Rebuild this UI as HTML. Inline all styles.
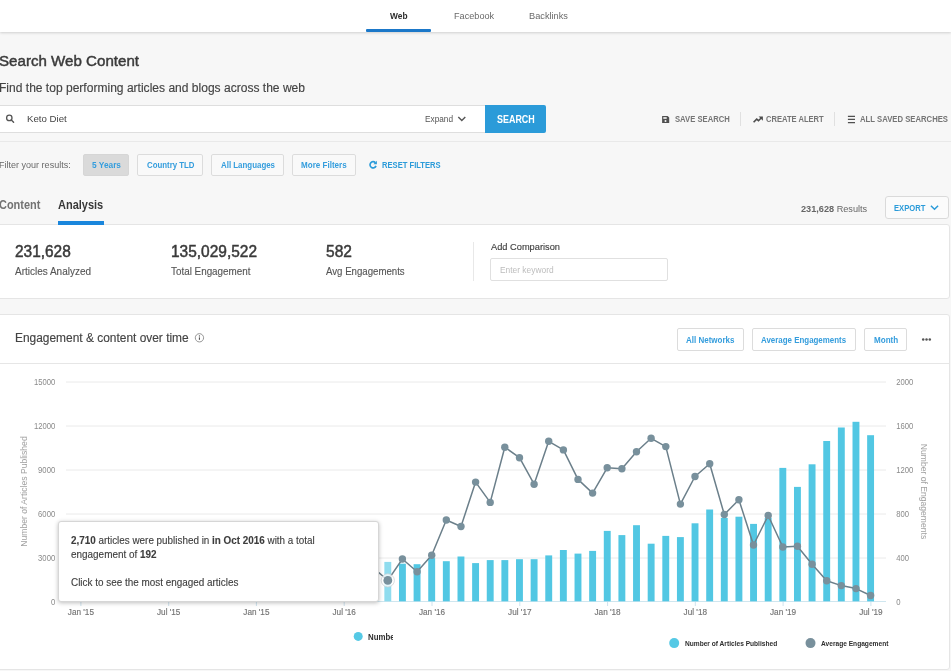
<!DOCTYPE html>
<html lang="en"><head><meta charset="utf-8"><title>Search Web Content</title>
<style>
html,body{margin:0;padding:0}
body{width:951px;height:671px;overflow:hidden;background:#f7f7f7;position:relative;font-family:"Liberation Sans",sans-serif;}
.t{position:absolute;white-space:nowrap;line-height:20px;height:20px;transform-origin:0 50%}
.t b{font-weight:700}
.a{position:absolute;box-sizing:border-box}
.chart{position:absolute;left:0;top:0}
#page{position:absolute;left:0;top:0;width:951px;height:671px;overflow:hidden;will-change:transform}
</style></head>
<body>
<div id="page">
<div class="a" style="left:0;top:0;width:951px;height:32px;background:#fff;box-shadow:0 0.5px 2.5px rgba(0,0,0,.16)"></div>
<div class="a" style="left:366px;top:29.1px;width:65.2px;height:2.9px;background:#1b78c9;border-radius:1px"></div>
<div class="a" style="left:-2px;top:104.5px;width:488px;height:28.5px;background:#fff;border:1px solid #dedede"></div>
<div class="a" style="left:485px;top:104.5px;width:61px;height:28.5px;background:#2b9bd9;border-radius:0 2px 2px 0"></div>
<div class="a" style="left:740px;top:112px;width:1px;height:14px;background:#e0e0e0"></div>
<div class="a" style="left:834px;top:112px;width:1px;height:14px;background:#e0e0e0"></div>
<div class="a" style="left:0;top:141px;width:951px;height:1px;background:#e9e9e9"></div>
<div class="a" style="left:82.8px;top:153.8px;width:46.5px;height:22px;background:#dadada;border:1px solid #d6d6d6;border-radius:2px"></div>
<div class="a" style="left:137px;top:153.6px;width:66px;height:22.2px;background:#f9f9f9;border:1px solid #dcdcdc;border-radius:2px"></div>
<div class="a" style="left:211.3px;top:153.6px;width:72.5px;height:22.2px;background:#f9f9f9;border:1px solid #dcdcdc;border-radius:2px"></div>
<div class="a" style="left:291.5px;top:153.6px;width:64.5px;height:22.2px;background:#f9f9f9;border:1px solid #dcdcdc;border-radius:2px"></div>
<div class="a" style="left:885px;top:196px;width:64px;height:23px;background:#fbfbfb;border:1px solid #dadada;border-radius:3px"></div>
<div class="a" style="left:-0.6px;top:223.7px;width:950.5px;height:75px;background:#fff;border:1px solid #e5e5e5;border-radius:0 3px 3px 0"></div>
<div class="a" style="left:57.8px;top:220.9px;width:46px;height:3.7px;background:#1a86dc"></div>
<div class="a" style="left:473px;top:242px;width:1px;height:39px;background:#e8e8e8"></div>
<div class="a" style="left:490px;top:257.8px;width:178px;height:23.4px;background:#fff;border:1px solid #e0e0e0;border-radius:2px"></div>
<div class="a" style="left:-0.6px;top:313.8px;width:950.5px;height:355.8px;background:#fff;border:1px solid #e5e5e5;border-radius:0 3px 3px 0"></div>
<div class="a" style="left:0;top:362.5px;width:949px;height:1px;background:#e6e6e6"></div>
<div class="a" style="left:677px;top:328.3px;width:66.5px;height:22.3px;background:#fff;border:1px solid #dcdcdc;border-radius:2px"></div>
<div class="a" style="left:752.4px;top:328.3px;width:103.8px;height:22.3px;background:#fff;border:1px solid #dcdcdc;border-radius:2px"></div>
<div class="a" style="left:864.4px;top:328.3px;width:43px;height:22.3px;background:#fff;border:1px solid #dcdcdc;border-radius:2px"></div>
<svg class="chart" width="951" height="671" viewBox="0 0 951 671" style="font-family:'Liberation Sans',sans-serif">
<line x1="66" x2="886" y1="382.0" y2="382.0" stroke="#eaeaea" stroke-width="1"/>
<line x1="66" x2="886" y1="426.0" y2="426.0" stroke="#eaeaea" stroke-width="1"/>
<line x1="66" x2="886" y1="470.0" y2="470.0" stroke="#eaeaea" stroke-width="1"/>
<line x1="66" x2="886" y1="514.0" y2="514.0" stroke="#eaeaea" stroke-width="1"/>
<line x1="66" x2="886" y1="558.0" y2="558.0" stroke="#eaeaea" stroke-width="1"/>
<line x1="66" x2="886" y1="601.5" y2="601.5" stroke="#cfe6ef" stroke-width="1"/>
<line x1="80.9" x2="80.9" y1="601" y2="606" stroke="#cfe3ee" stroke-width="1"/>
<line x1="168.7" x2="168.7" y1="601" y2="606" stroke="#cfe3ee" stroke-width="1"/>
<line x1="256.4" x2="256.4" y1="601" y2="606" stroke="#cfe3ee" stroke-width="1"/>
<line x1="344.2" x2="344.2" y1="601" y2="606" stroke="#cfe3ee" stroke-width="1"/>
<line x1="432.0" x2="432.0" y1="601" y2="606" stroke="#cfe3ee" stroke-width="1"/>
<line x1="519.8" x2="519.8" y1="601" y2="606" stroke="#cfe3ee" stroke-width="1"/>
<line x1="607.6" x2="607.6" y1="601" y2="606" stroke="#cfe3ee" stroke-width="1"/>
<line x1="695.3" x2="695.3" y1="601" y2="606" stroke="#cfe3ee" stroke-width="1"/>
<line x1="783.1" x2="783.1" y1="601" y2="606" stroke="#cfe3ee" stroke-width="1"/>
<line x1="870.9" x2="870.9" y1="601" y2="606" stroke="#cfe3ee" stroke-width="1"/>
<rect x="384.35" y="561.90" width="6.9" height="39.40" fill="#8fdcee"/>
<rect x="398.98" y="563.70" width="6.9" height="37.60" fill="#52c7e3"/>
<rect x="413.61" y="564.20" width="6.9" height="37.10" fill="#52c7e3"/>
<rect x="428.24" y="558.10" width="6.9" height="43.20" fill="#52c7e3"/>
<rect x="442.87" y="561.20" width="6.9" height="40.10" fill="#52c7e3"/>
<rect x="457.50" y="556.50" width="6.9" height="44.80" fill="#52c7e3"/>
<rect x="472.13" y="563.10" width="6.9" height="38.20" fill="#52c7e3"/>
<rect x="486.76" y="560.10" width="6.9" height="41.20" fill="#52c7e3"/>
<rect x="501.39" y="560.10" width="6.9" height="41.20" fill="#52c7e3"/>
<rect x="516.02" y="559.20" width="6.9" height="42.10" fill="#52c7e3"/>
<rect x="530.65" y="559.20" width="6.9" height="42.10" fill="#52c7e3"/>
<rect x="545.28" y="555.40" width="6.9" height="45.90" fill="#52c7e3"/>
<rect x="559.91" y="550.00" width="6.9" height="51.30" fill="#52c7e3"/>
<rect x="574.54" y="553.60" width="6.9" height="47.70" fill="#52c7e3"/>
<rect x="589.17" y="550.90" width="6.9" height="50.40" fill="#52c7e3"/>
<rect x="603.80" y="530.90" width="6.9" height="70.40" fill="#52c7e3"/>
<rect x="618.43" y="535.10" width="6.9" height="66.20" fill="#52c7e3"/>
<rect x="633.06" y="525.20" width="6.9" height="76.10" fill="#52c7e3"/>
<rect x="647.69" y="543.70" width="6.9" height="57.60" fill="#52c7e3"/>
<rect x="662.32" y="535.90" width="6.9" height="65.40" fill="#52c7e3"/>
<rect x="676.95" y="537.10" width="6.9" height="64.20" fill="#52c7e3"/>
<rect x="691.58" y="523.30" width="6.9" height="78.00" fill="#52c7e3"/>
<rect x="706.21" y="509.50" width="6.9" height="91.80" fill="#52c7e3"/>
<rect x="720.84" y="518.00" width="6.9" height="83.30" fill="#52c7e3"/>
<rect x="735.47" y="516.70" width="6.9" height="84.60" fill="#52c7e3"/>
<rect x="750.10" y="523.90" width="6.9" height="77.40" fill="#52c7e3"/>
<rect x="764.73" y="518.00" width="6.9" height="83.30" fill="#52c7e3"/>
<rect x="779.36" y="467.90" width="6.9" height="133.40" fill="#52c7e3"/>
<rect x="793.99" y="486.90" width="6.9" height="114.40" fill="#52c7e3"/>
<rect x="808.62" y="464.30" width="6.9" height="137.00" fill="#52c7e3"/>
<rect x="823.25" y="441.00" width="6.9" height="160.30" fill="#52c7e3"/>
<rect x="837.88" y="427.50" width="6.9" height="173.80" fill="#52c7e3"/>
<rect x="852.51" y="421.80" width="6.9" height="179.50" fill="#52c7e3"/>
<rect x="867.14" y="435.20" width="6.9" height="166.10" fill="#52c7e3"/>
<polyline points="373.5,568 387.8,580.4 402.4,559.0 417.1,571.7 431.7,555.2 446.3,520.0 461.0,526.5 475.6,482.1 490.2,502.4 504.8,447.2 519.5,457.7 534.1,484.2 548.7,441.3 563.4,449.9 578.0,479.4 592.6,493.1 607.2,467.8 621.9,468.7 636.5,451.7 651.1,438.3 665.8,446.6 680.4,504.1 695.0,476.5 709.7,463.7 724.3,514.5 738.9,499.7 753.5,545.0 768.2,515.5 782.8,547.0 797.4,546.3 812.1,564.3 826.7,580.7 841.3,585.6 856.0,588.6 870.6,595.5" fill="none" stroke="#6b7f8a" stroke-width="1.5" stroke-linejoin="round"/>
<circle cx="387.8" cy="580.4" r="6.6" fill="#fff" fill-opacity="0.75" stroke="#c9ced1" stroke-width="0.7"/>
<circle cx="387.8" cy="580.4" r="4.4" fill="#78909c"/>
<circle cx="402.4" cy="559.0" r="3.7" fill="#78909c"/>
<circle cx="417.1" cy="571.7" r="3.7" fill="#78909c"/>
<circle cx="431.7" cy="555.2" r="3.7" fill="#78909c"/>
<circle cx="446.3" cy="520.0" r="3.7" fill="#78909c"/>
<circle cx="461.0" cy="526.5" r="3.7" fill="#78909c"/>
<circle cx="475.6" cy="482.1" r="3.7" fill="#78909c"/>
<circle cx="490.2" cy="502.4" r="3.7" fill="#78909c"/>
<circle cx="504.8" cy="447.2" r="3.7" fill="#78909c"/>
<circle cx="519.5" cy="457.7" r="3.7" fill="#78909c"/>
<circle cx="534.1" cy="484.2" r="3.7" fill="#78909c"/>
<circle cx="548.7" cy="441.3" r="3.7" fill="#78909c"/>
<circle cx="563.4" cy="449.9" r="3.7" fill="#78909c"/>
<circle cx="578.0" cy="479.4" r="3.7" fill="#78909c"/>
<circle cx="592.6" cy="493.1" r="3.7" fill="#78909c"/>
<circle cx="607.2" cy="467.8" r="3.7" fill="#78909c"/>
<circle cx="621.9" cy="468.7" r="3.7" fill="#78909c"/>
<circle cx="636.5" cy="451.7" r="3.7" fill="#78909c"/>
<circle cx="651.1" cy="438.3" r="3.7" fill="#78909c"/>
<circle cx="665.8" cy="446.6" r="3.7" fill="#78909c"/>
<circle cx="680.4" cy="504.1" r="3.7" fill="#78909c"/>
<circle cx="695.0" cy="476.5" r="3.7" fill="#78909c"/>
<circle cx="709.7" cy="463.7" r="3.7" fill="#78909c"/>
<circle cx="724.3" cy="514.5" r="3.7" fill="#78909c"/>
<circle cx="738.9" cy="499.7" r="3.7" fill="#78909c"/>
<circle cx="753.5" cy="545.0" r="3.7" fill="#78909c"/>
<circle cx="768.2" cy="515.5" r="3.7" fill="#78909c"/>
<circle cx="782.8" cy="547.0" r="3.7" fill="#78909c"/>
<circle cx="797.4" cy="546.3" r="3.7" fill="#78909c"/>
<circle cx="812.1" cy="564.3" r="3.7" fill="#78909c"/>
<circle cx="826.7" cy="580.7" r="3.7" fill="#78909c"/>
<circle cx="841.3" cy="585.6" r="3.7" fill="#78909c"/>
<circle cx="856.0" cy="588.6" r="3.7" fill="#78909c"/>
<circle cx="870.6" cy="595.5" r="3.7" fill="#78909c"/>
<text x="55.2" y="382.2" text-anchor="end" font-size="8.2" fill="#8a8a8a" dominant-baseline="middle" dy="0.3" textLength="21.3" lengthAdjust="spacingAndGlyphs">15000</text>
<text x="55.2" y="426.2" text-anchor="end" font-size="8.2" fill="#8a8a8a" dominant-baseline="middle" dy="0.3" textLength="21.3" lengthAdjust="spacingAndGlyphs">12000</text>
<text x="55.2" y="470.2" text-anchor="end" font-size="8.2" fill="#8a8a8a" dominant-baseline="middle" dy="0.3" textLength="17.1" lengthAdjust="spacingAndGlyphs">9000</text>
<text x="55.2" y="514.2" text-anchor="end" font-size="8.2" fill="#8a8a8a" dominant-baseline="middle" dy="0.3" textLength="17.1" lengthAdjust="spacingAndGlyphs">6000</text>
<text x="55.2" y="558.2" text-anchor="end" font-size="8.2" fill="#8a8a8a" dominant-baseline="middle" dy="0.3" textLength="17.1" lengthAdjust="spacingAndGlyphs">3000</text>
<text x="55.2" y="602.2" text-anchor="end" font-size="8.2" fill="#8a8a8a" dominant-baseline="middle" dy="0.3" textLength="4.3" lengthAdjust="spacingAndGlyphs">0</text>
<text x="896.3" y="382.2" text-anchor="start" font-size="8.2" fill="#8a8a8a" dominant-baseline="middle" dy="0.3" textLength="17.1" lengthAdjust="spacingAndGlyphs">2000</text>
<text x="896.3" y="426.2" text-anchor="start" font-size="8.2" fill="#8a8a8a" dominant-baseline="middle" dy="0.3" textLength="17.1" lengthAdjust="spacingAndGlyphs">1600</text>
<text x="896.3" y="470.2" text-anchor="start" font-size="8.2" fill="#8a8a8a" dominant-baseline="middle" dy="0.3" textLength="17.1" lengthAdjust="spacingAndGlyphs">1200</text>
<text x="896.3" y="514.2" text-anchor="start" font-size="8.2" fill="#8a8a8a" dominant-baseline="middle" dy="0.3" textLength="12.8" lengthAdjust="spacingAndGlyphs">800</text>
<text x="896.3" y="558.2" text-anchor="start" font-size="8.2" fill="#8a8a8a" dominant-baseline="middle" dy="0.3" textLength="12.8" lengthAdjust="spacingAndGlyphs">400</text>
<text x="896.3" y="602.2" text-anchor="start" font-size="8.2" fill="#8a8a8a" dominant-baseline="middle" dy="0.3" textLength="4.3" lengthAdjust="spacingAndGlyphs">0</text>
<text x="80.9" y="614.8" text-anchor="middle" font-size="8.2" fill="#747474" stroke="#747474" stroke-width="0.15">Jan '15</text>
<text x="168.7" y="614.8" text-anchor="middle" font-size="8.2" fill="#747474" stroke="#747474" stroke-width="0.15">Jul '15</text>
<text x="256.4" y="614.8" text-anchor="middle" font-size="8.2" fill="#747474" stroke="#747474" stroke-width="0.15">Jan '15</text>
<text x="344.2" y="614.8" text-anchor="middle" font-size="8.2" fill="#747474" stroke="#747474" stroke-width="0.15">Jul '16</text>
<text x="432.0" y="614.8" text-anchor="middle" font-size="8.2" fill="#747474" stroke="#747474" stroke-width="0.15">Jan '16</text>
<text x="519.8" y="614.8" text-anchor="middle" font-size="8.2" fill="#747474" stroke="#747474" stroke-width="0.15">Jul '17</text>
<text x="607.6" y="614.8" text-anchor="middle" font-size="8.2" fill="#747474" stroke="#747474" stroke-width="0.15">Jan '18</text>
<text x="695.3" y="614.8" text-anchor="middle" font-size="8.2" fill="#747474" stroke="#747474" stroke-width="0.15">Jul '18</text>
<text x="783.1" y="614.8" text-anchor="middle" font-size="8.2" fill="#747474" stroke="#747474" stroke-width="0.15">Jan '19</text>
<text x="870.9" y="614.8" text-anchor="middle" font-size="8.2" fill="#747474" stroke="#747474" stroke-width="0.15">Jul '19</text>
<text transform="translate(26.8,491.5) rotate(-90)" text-anchor="middle" font-size="8.6" fill="#a2a2a2">Number of Articles Published</text>
<text transform="translate(920.8,491.5) rotate(90)" text-anchor="middle" font-size="8.6" fill="#a2a2a2">Number of Engagements</text>
<circle cx="674.2" cy="643.1" r="5" fill="#55c9e5"/>
<circle cx="810.5" cy="643.1" r="5" fill="#78909c"/>
</svg>
<svg class="chart" width="951" height="671" viewBox="0 0 951 671">
<circle cx="9.3" cy="117.9" r="2.7" fill="none" stroke="#555" stroke-width="1.3"/><line x1="11.3" y1="120" x2="13.6" y2="122.3" stroke="#555" stroke-width="1.4" stroke-linecap="round"/>
<polyline points="458.3,117 461.8,120.4 465.3,117" fill="none" stroke="#555" stroke-width="1.4"/>
<path d="M662.1 116 h5.5 l1.6 1.6 v5.4 h-7.1z" fill="#505050"/><rect x="663.3" y="117.2" width="3.4" height="1.6" fill="#f7f7f7"/><circle cx="665.5" cy="121" r="1" fill="#f7f7f7"/>
<polyline points="753.6,122.3 756.7,119.1 758.5,120.7 761.4,117.7" fill="none" stroke="#4d4d4d" stroke-width="1.6"/><path d="M758.6 116.5 h4.3 v4.3z" fill="#4d4d4d"/>
<path d="M847.9 116.4h7.1M847.9 119.45h7.1M847.9 122.5h7.1" stroke="#505050" stroke-width="1.25"/>
<path d="M375.3 162.6 a3.1 3.1 0 1 0 0.7 3.3" fill="none" stroke="#2b9bd9" stroke-width="1.65"/><path d="M376.9 160.7 v3.5 h-3.5z" fill="#2b9bd9"/>
<polyline points="930.9,205.8 934.5,209.3 938.1,205.8" fill="none" stroke="#2b9bd9" stroke-width="1.5"/>
<circle cx="199.45" cy="337.8" r="4.15" fill="none" stroke="#8a8a8a" stroke-width="0.9"/><path d="M199.45 337.4v2.4" stroke="#505050" stroke-width="1.15"/><circle cx="199.45" cy="335.9" r="0.65" fill="#505050"/>
<circle cx="923.2" cy="339.4" r="1.25" fill="#555"/><circle cx="926.5" cy="339.4" r="1.25" fill="#555"/><circle cx="929.8" cy="339.4" r="1.25" fill="#555"/>
</svg>
<div class="a" style="left:58.3px;top:520.9px;width:320.6px;height:80.7px;background:#fff;border:1px solid #d6d6d6;border-radius:3px;box-shadow:0 1px 4px rgba(0,0,0,.26)"></div>
<svg class="chart" width="951" height="671" viewBox="0 0 951 671"><circle cx="358.2" cy="636.4" r="4.5" fill="#55c9e5"/></svg><div class="a" style="left:367.6px;top:626.9px;width:25px;height:20px;overflow:hidden"><span style="position:absolute;left:0;top:0;white-space:nowrap;line-height:20px;font-size:8.3px;font-weight:700;color:#2e2e2e;transform:scaleX(0.945);transform-origin:0 50%">Number of Articles Published</span></div>
<span id="t0" class="t" style="left:389.50px;top:6.09px;font-size:9.2px;font-weight:700;color:#2b2b2b;transform:scaleX(0.9098);">Web</span>
<span id="t1" class="t" style="left:453.50px;top:6.27px;font-size:9.4px;font-weight:400;color:#6a6a6a;transform:scaleX(0.9740);">Facebook</span>
<span id="t2" class="t" style="left:529.00px;top:6.27px;font-size:9.4px;font-weight:400;color:#6a6a6a;transform:scaleX(0.9846);">Backlinks</span>
<span id="t3" class="t" style="left:-1.00px;top:51.00px;font-size:15.4px;font-weight:400;color:#3a3a3a;transform:scaleX(0.9818);-webkit-text-stroke:0.46px #3a3a3a;">Search Web Content</span>
<span id="t4" class="t" style="left:-1.00px;top:78.00px;font-size:12px;font-weight:400;color:#444;transform:scaleX(1.0038);-webkit-text-stroke:0.15px #444;">Find the top performing articles and blogs across the web</span>
<span id="t5" class="t" style="left:27.20px;top:109.31px;font-size:9.8px;font-weight:400;color:#444;transform:scaleX(0.9873);">Keto Diet</span>
<span id="t6" class="t" style="left:425.00px;top:108.91px;font-size:8.7px;font-weight:400;color:#555;transform:scaleX(0.9502);">Expand</span>
<span id="t7" class="t" style="left:496.80px;top:109.65px;font-size:10.2px;font-weight:700;color:#fff;transform:scaleX(0.8784);">SEARCH</span>
<span id="t8" class="t" style="left:675.20px;top:109.30px;font-size:8.7px;font-weight:700;color:#757575;transform:scaleX(0.8821);">SAVE SEARCH</span>
<span id="t9" class="t" style="left:766.30px;top:109.30px;font-size:8.7px;font-weight:700;color:#757575;transform:scaleX(0.8726);">CREATE ALERT</span>
<span id="t10" class="t" style="left:860.00px;top:109.30px;font-size:8.7px;font-weight:700;color:#757575;transform:scaleX(0.8878);">ALL SAVED SEARCHES</span>
<span id="t11" class="t" style="left:-1.00px;top:155.13px;font-size:9.3px;font-weight:400;color:#6a6a6a;transform:scaleX(0.9704);">Filter your results:</span>
<span id="t12" class="t" style="left:91.50px;top:155.11px;font-size:8.7px;font-weight:700;color:#349ddd;transform:scaleX(0.9577);">5 Years</span>
<span id="t13" class="t" style="left:146.50px;top:155.11px;font-size:8.7px;font-weight:700;color:#349ddd;transform:scaleX(0.9029);">Country TLD</span>
<span id="t14" class="t" style="left:220.50px;top:155.11px;font-size:8.7px;font-weight:700;color:#349ddd;transform:scaleX(0.9095);">All Languages</span>
<span id="t15" class="t" style="left:301.00px;top:155.11px;font-size:8.7px;font-weight:700;color:#349ddd;transform:scaleX(0.9279);">More Filters</span>
<span id="t16" class="t" style="left:382.00px;top:155.11px;font-size:8.7px;font-weight:700;color:#2b9bd9;transform:scaleX(0.8769);">RESET FILTERS</span>
<span id="t17" class="t" style="left:-1.00px;top:194.70px;font-size:12px;font-weight:700;color:#727272;transform:scaleX(0.9133);">Content</span>
<span id="t18" class="t" style="left:58.30px;top:194.70px;font-size:12px;font-weight:700;color:#383838;transform:scaleX(0.9157);">Analysis</span>
<span id="t19" class="t" style="left:801.20px;top:198.71px;font-size:9.8px;font-weight:400;color:#666;transform:scaleX(0.9349);"><b>231,628</b> Results</span>
<span id="t20" class="t" style="left:894.00px;top:197.51px;font-size:8.7px;font-weight:700;color:#2b9bd9;transform:scaleX(0.8759);">EXPORT</span>
<span id="t21" class="t" style="left:15.20px;top:242.00px;font-size:15.6px;font-weight:400;color:#3a3a3a;transform:scaleX(0.9898);-webkit-text-stroke:0.47px #3a3a3a;">231,628</span>
<span id="t22" class="t" style="left:15.20px;top:262.00px;font-size:10.2px;font-weight:400;color:#555;transform:scaleX(0.9797);-webkit-text-stroke:0.12px #555;">Articles Analyzed</span>
<span id="t23" class="t" style="left:170.80px;top:242.00px;font-size:15.6px;font-weight:400;color:#3a3a3a;transform:scaleX(0.9917);-webkit-text-stroke:0.47px #3a3a3a;">135,029,522</span>
<span id="t24" class="t" style="left:170.80px;top:262.00px;font-size:10.2px;font-weight:400;color:#555;transform:scaleX(0.9680);-webkit-text-stroke:0.12px #555;">Total Engagement</span>
<span id="t25" class="t" style="left:326.10px;top:242.00px;font-size:15.6px;font-weight:400;color:#3a3a3a;transform:scaleX(0.9950);-webkit-text-stroke:0.47px #3a3a3a;">582</span>
<span id="t26" class="t" style="left:326.10px;top:262.00px;font-size:10.2px;font-weight:400;color:#555;transform:scaleX(0.9473);-webkit-text-stroke:0.12px #555;">Avg Engagements</span>
<span id="t27" class="t" style="left:490.50px;top:237.31px;font-size:9.8px;font-weight:400;color:#3f3f3f;transform:scaleX(0.9454);-webkit-text-stroke:0.15px #3f3f3f;">Add Comparison</span>
<span id="t28" class="t" style="left:500.00px;top:260.15px;font-size:8.8px;font-weight:400;color:#bdbdbd;transform:scaleX(0.9532);">Enter keyword</span>
<span id="t29" class="t" style="left:15.00px;top:328.30px;font-size:12px;font-weight:400;color:#444;transform:scaleX(0.9938);-webkit-text-stroke:0.15px #444;">Engagement &amp; content over time</span>
<span id="t30" class="t" style="left:686.00px;top:329.91px;font-size:8.7px;font-weight:700;color:#349ddd;transform:scaleX(0.9197);">All Networks</span>
<span id="t31" class="t" style="left:761.30px;top:329.91px;font-size:8.7px;font-weight:700;color:#349ddd;transform:scaleX(0.9117);">Average Engagements</span>
<span id="t32" class="t" style="left:873.60px;top:329.91px;font-size:8.7px;font-weight:700;color:#349ddd;transform:scaleX(0.9285);">Month</span>
<span id="t33" class="t" style="left:70.90px;top:531.05px;font-size:10.2px;font-weight:400;color:#3d3d3d;transform:scaleX(0.9692);-webkit-text-stroke:0.12px #3d3d3d;"><b>2,710</b> articles were published in <b>in Oct 2016</b> with a total</span>
<span id="t34" class="t" style="left:70.90px;top:544.95px;font-size:10.2px;font-weight:400;color:#3d3d3d;transform:scaleX(0.9748);-webkit-text-stroke:0.12px #3d3d3d;">engagement of <b>192</b></span>
<span id="t35" class="t" style="left:70.90px;top:573.45px;font-size:10.2px;font-weight:400;color:#3d3d3d;transform:scaleX(0.9724);-webkit-text-stroke:0.12px #3d3d3d;">Click to see the most engaged articles</span>
<span id="t36" class="t" style="left:684.80px;top:634.30px;font-size:8.0px;font-weight:700;color:#2e2e2e;transform:scaleX(0.8252);">Number of Articles Published</span>
<span id="t37" class="t" style="left:821.30px;top:634.30px;font-size:8.0px;font-weight:700;color:#2e2e2e;transform:scaleX(0.8268);">Average Engagement</span>
</div>
</body></html>
